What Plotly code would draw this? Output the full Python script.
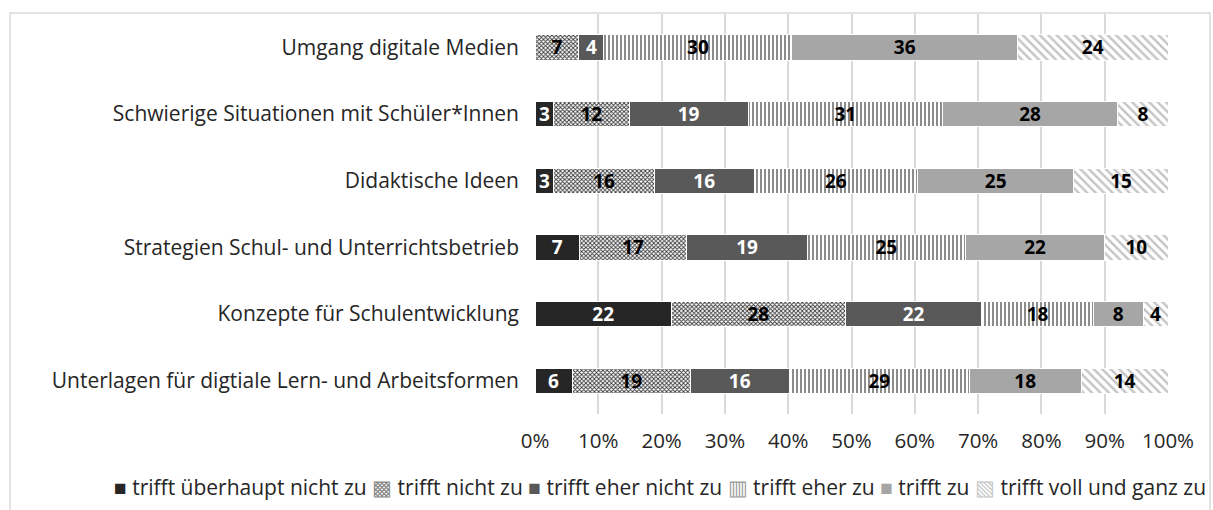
import plotly.graph_objects as go

categories = [
    "Umgang digitale Medien",
    "Schwierige Situationen mit Schüler*Innen",
    "Didaktische Ideen",
    "Strategien Schul- und Unterrichtsbetrieb",
    "Konzepte für Schulentwicklung",
    "Unterlagen für digtiale Lern- und Arbeitsformen",
]
series_names = [
    "trifft überhaupt nicht zu",
    "trifft nicht zu",
    "trifft eher nicht zu",
    "trifft eher zu",
    "trifft zu",
    "trifft voll und ganz zu",
]
v_ueberhaupt_nicht = [0, 3, 3, 7, 22, 6]
v_nicht = [7, 12, 16, 17, 28, 19]
v_eher_nicht = [4, 19, 16, 19, 22, 16]
v_eher = [30, 31, 26, 25, 18, 29]
v_zu = [36, 28, 25, 22, 8, 18]
v_voll = [24, 8, 15, 10, 4, 14]
values = [v_ueberhaupt_nicht, v_nicht, v_eher_nicht, v_eher, v_zu, v_voll]
x_ticks = [0, 10, 20, 30, 40, 50, 60, 70, 80, 90, 100]
x_tick_labels = [f"{t}%" for t in x_ticks]

FONT = "Open Sans"
FS = 20.5
FS_CAT = 21
styles = [
    dict(color="#262626", pattern=None, text="white", icon="■", icolor="#262626"),
    dict(color="#ffffff", pattern=dict(shape="x", size=3, solidity=0.5, fgcolor="#383838", bgcolor="#ffffff", fillmode="replace"), text="black", icon="▩", icolor="#8a8a8a"),
    dict(color="#595959", pattern=None, text="white", icon="■", icolor="#595959"),
    dict(color="#ffffff", pattern=dict(shape="|", size=4, solidity=0.45, fgcolor="#7f7f7f", bgcolor="#ffffff", fillmode="replace"), text="black", icon="▥", icolor="#9a9a9a"),
    dict(color="#a6a6a6", pattern=None, text="black", icon="■", icolor="#a6a6a6"),
    dict(color="#ffffff", pattern=dict(shape="\\", size=6, solidity=0.4, fgcolor="#c4c4c4", bgcolor="#ffffff", fillmode="replace"), text="black", icon="▧", icolor="#c8c8c8"),
]

fig = go.Figure()
for name, vals, st in zip(series_names, values, styles):
    marker = dict(color=st["color"], line=dict(color="white", width=1))
    if st["pattern"]:
        marker["pattern"] = st["pattern"]
    fig.add_trace(go.Bar(
        y=categories, x=vals, name=name, orientation="h",
        marker=marker,
        text=[str(v) if v else "" for v in vals],
        texttemplate="%{text}",
        textposition="inside", insidetextanchor="middle", textangle=0,
        textfont=dict(family=FONT, size=19, color=st["text"], weight="bold"),
        hoverinfo="skip", showlegend=False,
    ))

W, H = 1213, 510
L, R, T, B = 535, 45, 14, 96
pw, ph = W - L - R, H - T - B

def px(x):
    return (x - L) / pw

def py(y):
    return (H - B - y) / ph

legend_text = " ".join(
    f"<span style='color:{st['icolor']}'>{st['icon']}</span> {name}"
    for name, st in zip(series_names, styles)
)

fig.update_layout(
    width=W, height=H, barmode="stack", barnorm="percent", bargap=0.62,
    margin=dict(l=L, r=R, t=T, b=B, autoexpand=False),
    plot_bgcolor="white", paper_bgcolor="white",
    font=dict(family=FONT, size=FS, color="#262626"),
    uniformtext=dict(mode="show", minsize=19),
    showlegend=False,
    xaxis=dict(range=[0, 100], tickvals=x_ticks, ticktext=x_tick_labels, showgrid=True,
               gridcolor="#d9d9d9", gridwidth=1.5, zeroline=False, showline=False,
               ticklabelstandoff=12, tickfont=dict(size=FS)),
    yaxis=dict(autorange="reversed", showgrid=False, showline=False, ticklabelstandoff=15,
               tickfont=dict(size=FS_CAT)),
    shapes=[dict(type="rect", xref="paper", yref="paper", x0=px(10), x1=px(1210),
                 y0=py(530), y1=py(13), line=dict(color="#d9d9d9", width=1.5), layer="below")],
    annotations=[dict(text=legend_text, xref="paper", yref="paper", x=px(660), y=py(487),
                      xanchor="center", yanchor="middle", showarrow=False,
                      font=dict(family=FONT, size=FS_CAT, color="#262626"))],
)
fig.write_html("out.html", config={"displayModeBar": False},
               post_script="document.body.style.margin='0';")
